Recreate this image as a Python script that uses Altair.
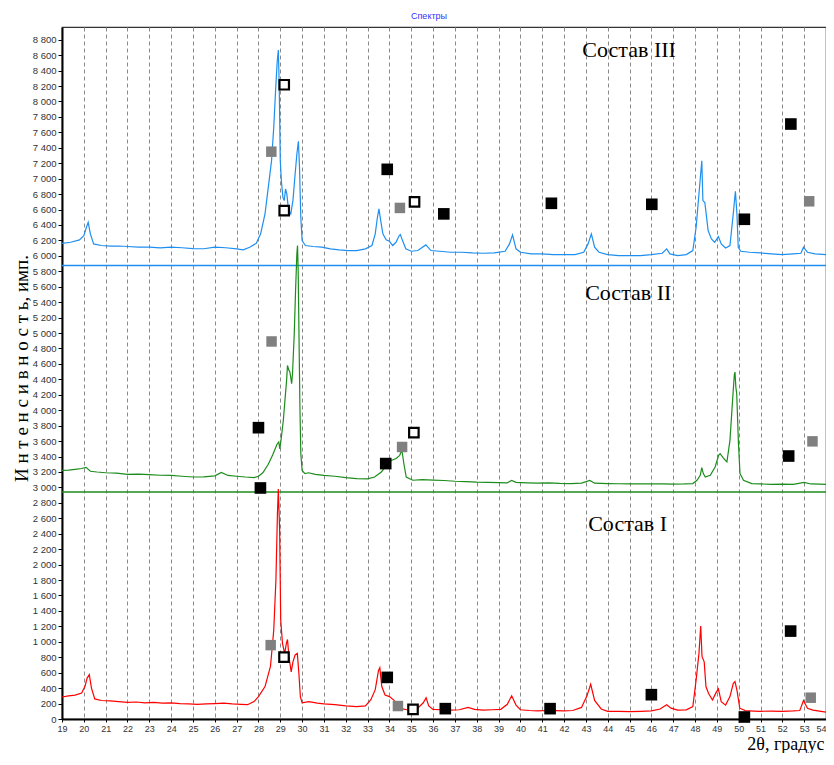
import altair as alt
import pandas as pd

# ---------------- data ----------------
red_points = [(19.0, 285), (19.3, 300), (19.6, 310), (19.9, 336), (20.05, 420), (20.15, 530), (20.25, 575),
              (20.35, 400), (20.5, 260), (20.8, 240), (21.2, 235), (21.6, 225), (22.0, 215), (22.4, 220),
              (22.8, 210), (23.2, 215), (23.6, 205), (24.0, 210), (24.4, 200), (24.8, 195), (25.2, 190),
              (25.6, 195), (26.0, 200), (26.4, 205), (26.8, 195), (27.2, 190), (27.5, 185), (27.8, 225),
              (28.0, 290), (28.3, 420), (28.55, 680), (28.7, 1150), (28.8, 1800), (28.87, 2670), (28.91, 2980),
              (28.97, 2450), (29.02, 1280), (29.1, 980), (29.2, 850), (29.28, 980), (29.33, 1030), (29.4, 800),
              (29.5, 610), (29.58, 740), (29.68, 830), (29.78, 850), (29.85, 600), (29.92, 290), (30.0, 210),
              (30.3, 225), (30.7, 205), (31.0, 195), (31.5, 185), (32.0, 170), (32.5, 160), (32.9, 170),
              (33.15, 250), (33.35, 380), (33.5, 630), (33.56, 665), (33.65, 420), (33.8, 310), (34.0, 290),
              (34.2, 245), (34.4, 180), (34.6, 130), (34.8, 120), (35.0, 125), (35.3, 140), (35.55, 210),
              (35.68, 275), (35.8, 170), (36.0, 125), (36.4, 120), (36.8, 115), (37.2, 120), (37.6, 150),
              (37.9, 125), (38.3, 115), (38.7, 120), (39.1, 125), (39.4, 190), (39.6, 300), (39.8, 180),
              (40.0, 120), (40.4, 110), (40.8, 105), (41.2, 110), (41.6, 108), (42.0, 105), (42.4, 110),
              (42.8, 150), (43.05, 300), (43.22, 450), (43.4, 240), (43.7, 130), (44.0, 100), (44.5, 98),
              (45.0, 95), (45.5, 100), (46.0, 105), (46.4, 130), (46.7, 185), (46.9, 140), (47.2, 115),
              (47.6, 118), (47.9, 160), (48.05, 505), (48.18, 850), (48.26, 1205), (48.32, 810), (48.42, 740),
              (48.5, 420), (48.62, 330), (48.8, 245), (48.95, 335), (49.07, 390), (49.2, 225), (49.4, 180),
              (49.6, 290), (49.75, 460), (49.83, 485), (49.92, 375), (50.05, 140), (50.3, 108), (50.7, 103),
              (51.0, 100), (51.5, 103), (52.0, 100), (52.5, 105), (52.8, 110), (52.97, 240), (53.15, 140),
              (53.4, 115), (53.7, 103), (54.0, 90)]

green_points = [(19.0, 3222), (19.3, 3225), (19.6, 3235), (19.9, 3245), (20.1, 3260), (20.3, 3210), (20.6, 3200),
                (21.0, 3190), (21.5, 3185), (22.0, 3170), (22.5, 3172), (23.0, 3165), (23.5, 3158), (24.0, 3155),
                (24.5, 3145), (25.0, 3135), (25.5, 3138), (26.0, 3150), (26.3, 3195), (26.6, 3155), (27.0, 3145),
                (27.4, 3135), (27.8, 3128), (28.0, 3145), (28.2, 3190), (28.45, 3300), (28.65, 3420),
                (28.85, 3560), (28.93, 3590), (28.98, 3500), (29.05, 3650), (29.14, 3870), (29.22, 4150),
                (29.29, 4390), (29.33, 4580), (29.39, 4520), (29.44, 4495), (29.52, 4345), (29.56, 4475),
                (29.64, 4990), (29.7, 5550), (29.76, 6030), (29.79, 6135), (29.82, 5800), (29.85, 5120),
                (29.9, 4040), (29.94, 3440), (30.0, 3220), (30.13, 3180), (30.3, 3190), (30.6, 3170),
                (31.0, 3157), (31.5, 3145), (32.0, 3127), (32.5, 3115), (33.0, 3112), (33.32, 3135),
                (33.63, 3200), (33.86, 3283), (34.08, 3350), (34.31, 3375), (34.47, 3416), (34.57, 3485),
                (34.66, 3310), (34.77, 3135), (35.07, 3093), (35.5, 3100), (36.0, 3095), (36.5, 3090),
                (37.0, 3080), (37.5, 3075), (38.0, 3068), (38.5, 3065), (39.0, 3062), (39.4, 3060), (39.6, 3090),
                (39.8, 3065), (40.3, 3060), (40.8, 3055), (41.3, 3058), (41.8, 3052), (42.3, 3050), (42.8, 3055),
                (43.18, 3090), (43.4, 3055), (44.0, 3050), (44.5, 3048), (45.0, 3045), (45.5, 3045), (46.0, 3048),
                (46.5, 3045), (47.0, 3042), (47.5, 3045), (47.9, 3050), (48.09, 3093), (48.24, 3157),
                (48.31, 3257), (48.38, 3180), (48.47, 3135), (48.7, 3157), (48.92, 3265), (49.08, 3416),
                (49.15, 3438), (49.3, 3380), (49.46, 3330), (49.6, 3610), (49.73, 4171), (49.8, 4460),
                (49.83, 4494), (49.87, 4300), (49.91, 4214), (49.99, 3567), (50.06, 3179), (50.22, 3093),
                (50.6, 3050), (51.0, 3045), (51.5, 3040), (52.0, 3042), (52.5, 3040), (53.0, 3065), (53.3, 3045),
                (53.7, 3042), (54.0, 3040)]

blue_points = [(19.0, 6163), (19.4, 6176), (19.8, 6207), (20.0, 6263), (20.12, 6371), (20.2, 6435), (20.3, 6285),
               (20.45, 6155), (20.8, 6134), (21.2, 6125), (21.6, 6128), (22.0, 6121), (22.5, 6112), (23.0, 6114),
               (23.5, 6103), (24.0, 6112), (24.5, 6105), (25.0, 6095), (25.5, 6092), (26.0, 6112), (26.5, 6105),
               (27.0, 6091), (27.3, 6078), (27.6, 6112), (27.9, 6163), (28.1, 6285), (28.3, 6543), (28.45, 6888),
               (28.6, 7233), (28.7, 7664), (28.8, 8225), (28.86, 8522), (28.91, 8666), (28.95, 8225), (29.0, 7233),
               (29.05, 6974), (29.12, 6758), (29.18, 6716), (29.24, 6866), (29.3, 6802), (29.38, 6586),
               (29.48, 6543), (29.58, 6716), (29.68, 7061), (29.76, 7319), (29.83, 7483), (29.88, 7147),
               (29.94, 6500), (30.0, 6198), (30.15, 6134), (30.5, 6121), (30.9, 6112), (31.3, 6091), (31.7, 6078),
               (32.1, 6069), (32.5, 6069), (32.9, 6091), (33.2, 6134), (33.35, 6285), (33.45, 6500), (33.52, 6608),
               (33.6, 6457), (33.7, 6285), (33.85, 6207), (34.0, 6189), (34.15, 6134), (34.3, 6176), (34.45, 6263),
               (34.5, 6276), (34.6, 6198), (34.75, 6091), (35.0, 6060), (35.3, 6069), (35.67, 6142), (35.9, 6069),
               (36.3, 6060), (36.8, 6047), (37.3, 6047), (37.8, 6038), (38.3, 6034), (38.8, 6038), (39.3, 6060),
               (39.5, 6155), (39.64, 6272), (39.8, 6091), (40.0, 6047), (40.5, 6026), (41.0, 6026), (41.5, 6017),
               (42.0, 6017), (42.5, 6017), (42.9, 6047), (43.1, 6155), (43.25, 6285), (43.4, 6112), (43.6, 6047),
               (44.0, 6017), (44.5, 6004), (45.0, 6004), (45.5, 6004), (46.0, 6017), (46.5, 6034), (46.7, 6091),
               (46.85, 6026), (47.2, 6004), (47.6, 6017), (47.9, 6069), (48.05, 6371), (48.18, 6802),
               (48.31, 7233), (48.36, 6716), (48.45, 6690), (48.6, 6328), (48.75, 6220), (48.9, 6176),
               (49.07, 6250), (49.2, 6155), (49.4, 6103), (49.6, 6134), (49.75, 6543), (49.85, 6836),
               (49.92, 6543), (49.98, 6112), (50.1, 6060), (50.5, 6047), (51.0, 6038), (51.5, 6026), (52.0, 6017),
               (52.5, 6026), (52.85, 6034), (52.97, 6112), (53.15, 6047), (53.5, 6026), (54.0, 6017)]

# separating baselines between the stacked spectra
baseline_values = [2940, 5875]
baseline_series = ["II", "III"]

# phase markers: (2θ, intensity, kind)
markers = [
    (29.18, 8217, "open"), (28.59, 7350, "gray"), (29.18, 6587, "open"), (33.9, 7121, "black"),
    (34.48, 6621, "gray"), (35.15, 6699, "open"), (36.49, 6544, "black"), (41.42, 6681, "black"),
    (46.02, 6668, "black"), (50.26, 6474, "black"), (52.39, 7708, "black"), (53.23, 6707, "gray"),
    (28.6, 4891, "gray"), (28.0, 3774, "black"), (28.09, 2993, "black"), (33.83, 3309, "black"),
    (34.58, 3524, "gray"), (35.12, 3710, "open"), (52.29, 3407, "black"), (53.38, 3597, "gray"),
    (28.56, 957, "gray"), (29.17, 802, "open"), (33.9, 539, "black"), (34.39, 168, "gray"),
    (35.08, 125, "open"), (36.56, 134, "black"), (41.36, 134, "black"), (46.0, 315, "black"),
    (50.26, 26, "black"), (52.38, 1139, "black"), (53.3, 276, "gray"),
]

labels = ["Состав III", "Состав II", "Состав I"]
label_x = [44.98, 44.94, 44.91]
label_y = [8670, 5525, 2523]

x_ticks = list(range(19, 55))
y_ticks = list(range(0, 8801, 200))

series_names = ["I", "II", "III"]
series_colors = ["#ff0000", "#1c8c1c", "#1e8ff0"]

# ---------------- tables ----------------
rows = []
for name, pts in zip(series_names, [red_points, green_points, blue_points]):
    for xv, yv in pts:
        rows.append({"x": xv, "y": yv, "s": name})
curves_df = pd.DataFrame(rows)
base_df = pd.DataFrame({"y": baseline_values, "s": baseline_series})
mk_df = pd.DataFrame(markers, columns=["x", "y", "kind"])
lab_df = pd.DataFrame({"x": label_x, "y": label_y, "t": labels})

xscale = alt.Scale(domain=[19, 54], nice=False, zero=False)
yscale = alt.Scale(domain=[0, 8965], nice=False, zero=False)
cscale = alt.Scale(domain=series_names, range=series_colors)

X = alt.X("x:Q", scale=xscale, axis=alt.Axis(
    values=x_ticks, format="d", title="2θ, градус", grid=True, gridDash=[4, 3],
    gridColor="#8a8a8a", gridWidth=1, domainColor="#000000", domainWidth=2,
    tickColor="#000000", tickSize=3, labelFontSize=9, labelColor="#333333",
    labelFont="Liberation Sans", labelPadding=2, titleFont="Liberation Serif",
    titleFontSize=18, titleFontWeight="normal", titleColor="#000000",
    titleAnchor="end", titleAlign="right", titleX=762, titleY=30,
    titleBaseline="alphabetic", labelFlush=False,
    labelAlign={"condition": {"test": "datum.value == 54", "value": "right"}, "value": "center"}))
Y = alt.Y("y:Q", scale=yscale, axis=alt.Axis(
    values=y_ticks, labelExpr="replace(format(datum.value, ','), ',', ' ')",
    title="И н т е н с и в н о с т ь, имп.", grid=False, domainColor="#000000",
    domainWidth=2, tickColor="#000000", tickSize=4, labelFontSize=9.5,
    labelColor="#333333", labelFont="Liberation Sans", labelPadding=2,
    titleFont="Liberation Serif", titleFontSize=19, titleFontWeight="normal",
    titleColor="#000000", titleX=-35, titleY=341, titleAlign="center",
    titleBaseline="alphabetic", titleAngle=270))

curves = alt.Chart(curves_df).mark_line(strokeWidth=1.2).encode(
    x=X, y=Y, color=alt.Color("s:N", scale=cscale, legend=None), detail="s:N")

baselines = alt.Chart(base_df).mark_rule(strokeWidth=1.5).encode(
    y=Y, color=alt.Color("s:N", scale=cscale, legend=None))

black_sq = alt.Chart(mk_df).transform_filter(alt.datum.kind == "black").mark_point(
    shape="square", filled=True, size=135, color="#000000", opacity=1).encode(x=X, y=Y)
gray_sq = alt.Chart(mk_df).transform_filter(alt.datum.kind == "gray").mark_point(
    shape="square", filled=True, size=110, color="#808080", opacity=1).encode(x=X, y=Y)
open_sq = alt.Chart(mk_df).transform_filter(alt.datum.kind == "open").mark_point(
    shape="square", filled=False, size=90, fill="#ffffff", fillOpacity=1,
    stroke="#000000", strokeWidth=2.2, opacity=1).encode(x=X, y=Y)

texts = alt.Chart(lab_df).mark_text(
    font="Liberation Serif", fontSize=22, color="#000000", align="center", baseline="middle").encode(
    x=X, y=Y, text="t:N")

chart = alt.layer(baselines, curves, gray_sq, black_sq, open_sq, texts).properties(
    width=764, height=692,
    title=alt.TitleParams("Спектры", fontSize=9, font="Liberation Sans", fontWeight="normal",
                          color="#3535ff", anchor="middle", dx=-15, offset=6),
    autosize=alt.AutoSizeParams(type="none"),
    padding={"left": 54, "top": 19, "right": 0, "bottom": 34},
).configure_view(stroke="#333333", strokeWidth=1.2)

chart.save("out.html", embed_options={"renderer": "svg", "actions": False})
